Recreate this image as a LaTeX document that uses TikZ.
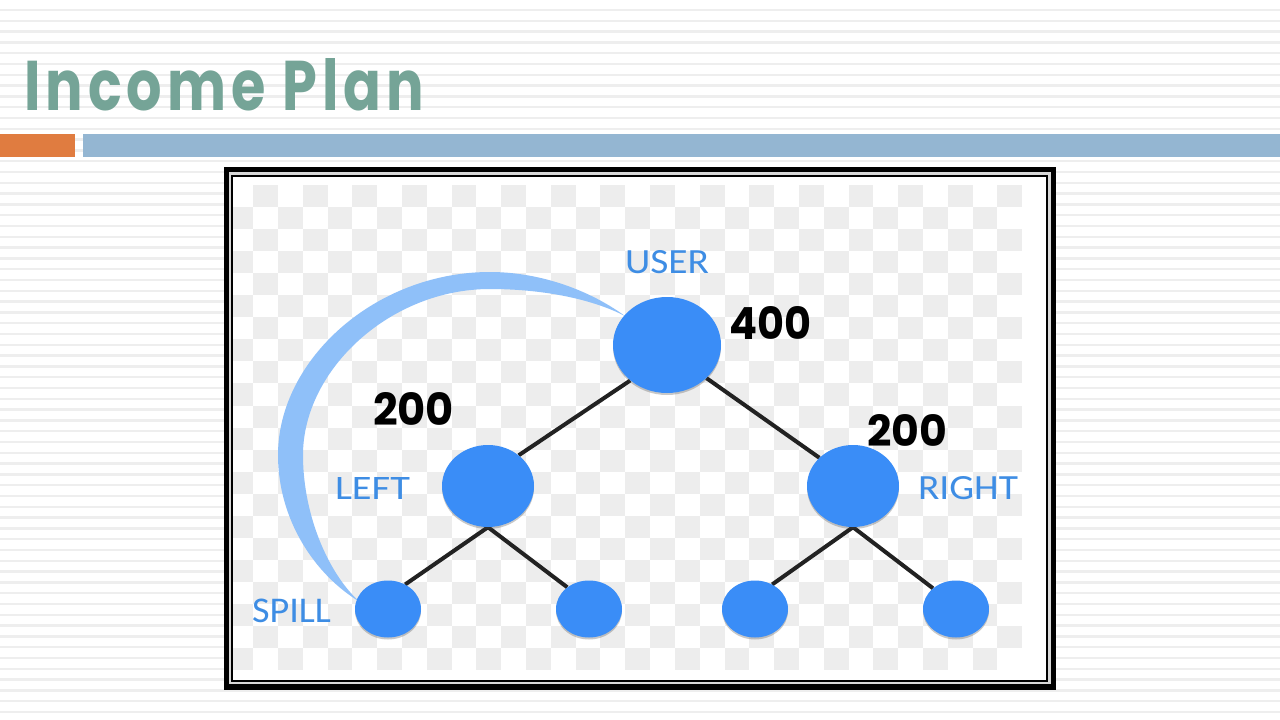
\documentclass[tikz,border=0pt]{standalone}
\usepackage{fontspec}
\newfontfamily\titlefont{Poppins}
\newfontfamily\labelfont{Carlito}
\newcommand\tk{\kern0.9pt}
\usetikzlibrary{shapes.geometric,shadows}
\pgfdeclarelayer{bg}
\pgfdeclarelayer{edges}
\pgfsetlayers{bg,edges,main}
\definecolor{titlecol}{RGB}{117,164,151}
\definecolor{orangebar}{RGB}{224,124,64}
\definecolor{bluebar}{RGB}{148,182,210}
\definecolor{stripecol}{RGB}{238,238,238}
\definecolor{checkgray}{RGB}{237,237,237}
\definecolor{gapgray}{RGB}{215,215,215}
\definecolor{nodeblue}{RGB}{58,141,247}
\definecolor{arcblue}{RGB}{143,192,249}
\definecolor{labelblue}{RGB}{62,141,228}
\definecolor{edgecol}{RGB}{34,34,34}
\tikzset{
  blob/.style={ellipse, fill=nodeblue, inner sep=0pt, draw=none,
    drop shadow={shadow xshift=0pt, shadow yshift=-2pt, opacity=0.3, fill=black!70}},
  bignode/.style={blob, minimum width=108pt, minimum height=96pt},
  midnode/.style={blob, minimum width=92pt, minimum height=82pt},
  leafnode/.style={blob, minimum width=66pt, minimum height=57pt},
  edge/.style={draw=edgecol, line width=4pt},
  txt/.style={anchor=base west, inner sep=0pt, outer sep=0pt},
  stripe/.style={draw=stripecol, line width=2.5pt}
}
\begin{document}
\begin{tikzpicture}[x=1pt,y=-1pt]
\useasboundingbox (0,0) rectangle (1280,720);
\begin{pgfonlayer}{bg}
  \fill[white] (0,0) rectangle (1280,720);
  \foreach \k in {0,...,65} \draw[stripe] (0,{10+10.8*\k}) -- (1280,{10+10.8*\k});
  \fill[orangebar] (0,134) rectangle (75,157);
  \fill[bluebar] (83,134) rectangle (1280,157);
  % frame
  \fill[black] (224,167) rectangle (1056,690);
  \fill[gapgray] (229,172) rectangle (1051,684);
  \fill[black] (231,175) rectangle (1048,682);
  \fill[white] (233,177) rectangle (1046,680);
  \begin{scope}
    \clip (233,177) rectangle (1046,680);
    \foreach \r in {0,...,21} {
      \foreach \c in {0,...,31} {
        \pgfmathtruncatemacro\odd{mod(\r+\c,2)}
        \ifnum\odd=1
          \fill[checkgray] ({228.3+24.81*\c},{185+22.05*\r}) rectangle ++(24.81,22.05);
        \fi
      }
    }
  \end{scope}
\end{pgfonlayer}

% title
\node[txt, text=titlecol] (title) at (24,110) {\resizebox{400pt}{52pt}{\titlefont\bfseries I\tk n\tk c\tk o\tk m\tk e\ \tk P\tk l\tk a\tk n}};

% tree nodes
\node[bignode] (user) at (667,345) {};
\node[midnode] (left) at (488,486) {};
\node[midnode] (right) at (853,486) {};
\node[leafnode] (spill) at (388,609) {};
\node[leafnode] (leafb) at (589,609) {};
\node[leafnode] (leafc) at (755,609) {};
\node[leafnode] (leafd) at (956,609) {};

% labels
\node[txt, text=labelblue] (luser) at (625,273) {\resizebox{84pt}{23pt}{\labelfont USER}};
\node[txt, text=labelblue] (lleft) at (335,499) {\resizebox{75pt}{22pt}{\labelfont LEFT}};
\node[txt, text=labelblue] (lright) at (918,499) {\resizebox{100pt}{23pt}{\labelfont RIGHT}};
\node[txt, text=labelblue] (lspill) at (252,622) {\resizebox{79pt}{23.5pt}{\labelfont SPILL}};

% numbers
\node[txt] (nuser) at (729,339) {\resizebox{82pt}{33pt}{\titlefont\bfseries 400}};
\node[txt] (nleft) at (373,425) {\resizebox{81pt}{33pt}{\titlefont\bfseries 200}};
\node[txt] (nright) at (867,446) {\resizebox{80pt}{32pt}{\titlefont\bfseries 200}};

\begin{pgfonlayer}{edges}
  \draw[edge] (user.224) -- (left.45);
  \draw[edge] (user.-40) -- (right.140);
  \draw[edge] (left.south) -- (spill.55);
  \draw[edge] (left.south) -- (leafb.135);
  \draw[edge] (right.south) -- (leafc.55);
  \draw[edge] (right.south) -- (leafd.138);
  % spill arc
  \fill[arcblue] (625,316)
    .. controls (585,287) and (535,272) .. (490,272)
    .. controls (375,272) and (278,360) .. (278,455)
    .. controls (278,520) and (315,575) .. (360,602)
    .. controls (332,578) and (303,520) .. (303,455)
    .. controls (303,370) and (390,289) .. (490,289)
    .. controls (540,289) and (590,298) .. (625,316) -- cycle;
\end{pgfonlayer}
\end{tikzpicture}
\end{document}
